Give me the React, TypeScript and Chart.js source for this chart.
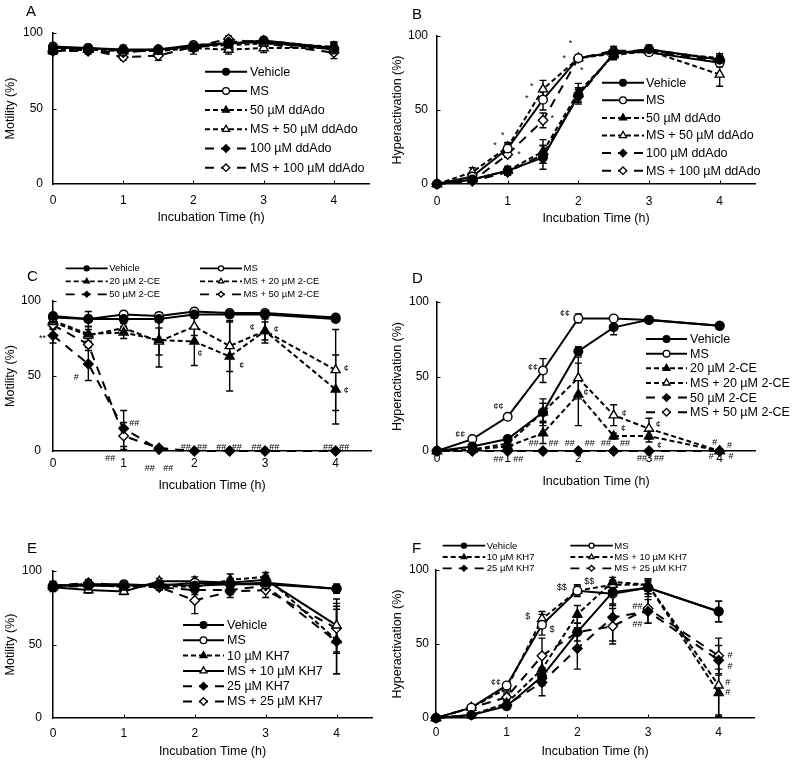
import React, { useEffect, useRef } from 'react';
import { Chart, registerables } from 'chart.js';
Chart.register(...registerables);

const FONT = '"Liberation Sans", Arial, Helvetica, sans-serif';

const times = [0, 0.5, 1, 1.5, 2, 2.5, 3, 4];
const xTicks = [0, 1, 2, 3, 4];
const yTicks = [0, 50, 100];

// ---------- Panel A: Motility, ddAdo ----------
const aVeh = [90, 90, 89, 89, 91, 93, 95, 90];
const aMS = [91, 90, 88, 89, 92, 93, 94, 89];
const a50 = [89, 89, 89, 88, 91, 92, 93, 91];
const aMS50 = [88, 89, 88, 88, 90, 89, 90, 90];
const a100 = [88, 88, 87, 89, 90, 94, 95, 90];
const aMS100 = [88, 89, 84, 85, 91, 96, 93, 87];
const aVehE = [2, 2, 2, 2, 2, 2, 2, 4];
const aMSE = [2, 1, 2, 2, 2, 2, 2, 3];
const a50E = [2, 2, 3, 2, 3, 3, 2, 3];
const aMS50E = [2, 2, 2, 2, 2, 3, 3, 3];
const a100E = [2, 2, 2, 2, 4, 2, 2, 3];
const aMS100E = [2, 2, 2, 3, 2, 2, 2, 4];

// ---------- Panel B: Hyperactivation, ddAdo ----------
const bVeh = [0, 3, 9, 18, 60, 88, 91, 84];
const bMS = [0, 5, 24, 57, 85, 89, 89, 82];
const b50 = [0, 3, 9, 22, 62, 87, 90, 85];
const bMS50 = [0, 8, 25, 64, 85, 88, 90, 74];
const b100 = [0, 2, 8, 20, 59, 88, 91, 84];
const bMS100 = [0, 2, 20, 43, 85, 90, 90, 83];
const bVehE = [0, 2, 3, 8, 5, 2, 2, 2];
const bMSE = [0, 2, 3, 7, 2, 3, 2, 3];
const b50E = [0, 2, 2, 8, 6, 3, 2, 3];
const bMS50E = [0, 3, 3, 6, 2, 3, 3, 8];
const b100E = [0, 1, 2, 6, 5, 3, 3, 3];
const bMS100E = [0, 1, 2, 5, 2, 3, 2, 3];
const bNotes = [
  { x: 0.82, y: 26, t: '*' }, { x: 0.93, y: 33, t: '*' }, { x: 1.16, y: 20, t: '*' },
  { x: 1.27, y: 58, t: '*' }, { x: 1.34, y: 66, t: '*' }, { x: 1.63, y: 44, t: '*' },
  { x: 1.8, y: 85, t: '*' }, { x: 1.89, y: 95, t: '*' }, { x: 2.05, y: 77, t: '*' },
];

// ---------- Panel C: Motility, 2-CE ----------
const cVeh = [90, 88, 88, 88, 91, 91, 91, 88];
const cMS = [89, 88, 91, 90, 93, 92, 92, 89];
const c20 = [87, 78, 79, 74, 73, 63, 80, 41];
const cMS20 = [86, 77, 82, 73, 83, 70, 80, 54];
const c50 = [77, 58, 15, 1, 0, 0, 0, 0];
const cMS50 = [84, 71, 10, 2, 0, 0, 0, 0];
const cVehE = [2, 5, 3, 2, 2, 2, 2, 2];
const cMSE = [2, 2, 2, 2, 2, 2, 2, 2];
const c20E = [3, 5, 4, 18, 16, 23, 6, 23];
const cMS20E = [3, 4, 4, 9, 6, 17, 8, 27];
const c50E = [5, 11, 12, 1, 0, 0, 0, 0];
const cMS50E = [3, 4, 9, 1, 0, 0, 0, 0];
const cNotes = [
  { x: -0.15, y: 75, t: '**' }, { x: 0.33, y: 49, t: '#' }, { x: 1.15, y: 18, t: '##' },
  { x: 0.81, y: -5, t: '##' }, { x: 1.37, y: -11.5, t: '##' }, { x: 1.63, y: -11.5, t: '##' },
  { x: 1.88, y: 2.5, t: '##' }, { x: 2.11, y: 2.5, t: '##' }, { x: 2.38, y: 2.5, t: '##' },
  { x: 2.6, y: 2.5, t: '##' }, { x: 2.88, y: 2.5, t: '##' }, { x: 3.13, y: 2.5, t: '##' },
  { x: 3.89, y: 2.5, t: '##' }, { x: 4.12, y: 2.5, t: '##' },
  { x: 2.08, y: 65, t: '¢' }, { x: 2.67, y: 57, t: '¢' }, { x: 2.82, y: 82, t: '¢' },
  { x: 3.16, y: 81, t: '¢' }, { x: 4.15, y: 55, t: '¢' }, { x: 4.15, y: 40, t: '¢' },
];

// ---------- Panel D: Hyperactivation, 2-CE ----------
const dVeh = [0, 3, 8, 26, 67, 83, 88, 84];
const dMS = [0, 8, 23, 54, 89, 89, 88, 84];
const d20 = [0, 1, 3, 12, 38, 10, 10, 0];
const dMS20 = [0, 1, 5, 26, 49, 24, 15, 0];
const d50 = [0, 0, 0, 0, 0, 0, 0, 0];
const dMS50 = [0, 0, 0, 0, 0, 0, 0, 0];
const dVehE = [0, 1, 2, 9, 3, 5, 1, 1];
const dMSE = [0, 1, 1, 8, 3, 1, 1, 1];
const d20E = [0, 1, 1, 7, 21, 2, 4, 0];
const dMS20E = [0, 1, 1, 6, 14, 7, 7, 0];
const d50E = [0, 0, 0, 0, 0, 0, 0, 0];
const dMS50E = [0, 0, 0, 0, 0, 0, 0, 0];
const dNotes = [
  { x: 1.81, y: 92, t: '¢¢' }, { x: 1.36, y: 56, t: '¢¢' }, { x: 0.87, y: 30, t: '¢¢' },
  { x: 0.33, y: 11, t: '¢¢' },
  { x: 1.37, y: 5, t: '##' }, { x: 1.65, y: 5, t: '##' }, { x: 1.88, y: 5, t: '##' },
  { x: 2.16, y: 5, t: '##' }, { x: 2.39, y: 5, t: '##' }, { x: 2.66, y: 5, t: '##' },
  { x: 0.87, y: -5.5, t: '##' }, { x: 1.15, y: -5.5, t: '##' }, { x: 2.9, y: -5, t: '##' },
  { x: 3.14, y: -5, t: '##' },
  { x: 2.11, y: 39, t: '¢' }, { x: 2.65, y: 25, t: '¢' }, { x: 2.64, y: 15, t: '¢' },
  { x: 3.13, y: 17.5, t: '¢' }, { x: 3.15, y: 4, t: '¢' },
  { x: 3.93, y: 6, t: '#' }, { x: 4.14, y: 3.5, t: '#' }, { x: 3.88, y: -4, t: '#' },
  { x: 4.16, y: -4, t: '#' },
];

// ---------- Panel E: Motility, KH7 ----------
const eVeh = [90, 90, 90, 91, 90, 91, 92, 88];
const eMS = [90, 91, 91, 90, 92, 91, 91, 88];
const e10 = [90, 91, 89, 90, 89, 94, 96, 53];
const eMS10 = [89, 87, 86, 93, 93, 92, 94, 63];
const e25 = [89, 90, 90, 89, 87, 87, 90, 52];
const eMS25 = [90, 92, 90, 89, 80, 86, 87, 61];
const eVehE = [3, 2, 2, 2, 3, 3, 2, 3];
const eMSE = [2, 2, 2, 2, 2, 2, 2, 3];
const e10E = [2, 2, 2, 2, 3, 4, 3, 23];
const eMS10E = [2, 2, 2, 2, 3, 3, 3, 18];
const e25E = [3, 2, 2, 2, 3, 3, 3, 22];
const eMS25E = [2, 2, 2, 2, 9, 4, 5, 17];

// ---------- Panel F: Hyperactivation, KH7 ----------
const fVeh = [0, 2, 8, 28, 58, 85, 88, 72];
const fMS = [0, 7, 22, 63, 86, 84, 88, 72];
const f10 = [0, 2, 10, 33, 70, 92, 90, 17];
const fMS10 = [0, 7, 20, 67, 86, 90, 90, 22];
const f25 = [0, 2, 9, 24, 47, 68, 72, 39];
const fMS25 = [0, 7, 14, 42, 58, 62, 74, 42];
const fVehE = [0, 1, 2, 6, 10, 8, 4, 7];
const fMSE = [0, 1, 2, 7, 4, 8, 6, 7];
const f10E = [0, 1, 2, 8, 6, 3, 3, 16];
const fMS10E = [0, 2, 3, 5, 3, 3, 4, 20];
const f25E = [0, 1, 2, 9, 14, 16, 8, 10];
const fMS25E = [0, 1, 2, 12, 6, 12, 10, 12];
const fNotes = [
  { x: 0.85, y: 24, t: '¢¢' }, { x: 1.3, y: 68.5, t: '$' }, { x: 1.64, y: 60, t: '$' },
  { x: 1.78, y: 88, t: '$$' }, { x: 2.17, y: 92.5, t: '$$' },
  { x: 2.85, y: 75.5, t: '##' }, { x: 2.85, y: 63.5, t: '##' },
  { x: 4.16, y: 42.5, t: '#' }, { x: 4.16, y: 35, t: '#' }, { x: 4.13, y: 24, t: '#' },
  { x: 4.13, y: 17, t: '#' },
];

// ---------- styles ----------
const SHORT = [5, 3];
const LONG = [9, 7];

function kindStyle(kind: string, solid?: boolean) {
  const shape = kind === 'veh' || kind === 'ms' ? 'circle' : kind === 'lo' || kind === 'loMs' ? 'triangle' : 'rectRot';
  const filled = kind === 'veh' || kind === 'lo' || kind === 'hi';
  const dash = solid || kind === 'veh' || kind === 'ms' ? [] : kind === 'lo' || kind === 'loMs' ? SHORT : LONG;
  const radius = shape === 'circle' ? 4.3 : shape === 'triangle' ? 5.2 : 4.8;
  return { shape, filled, dash, radius };
}

function mkSeries(labels: string[], vals: number[][], errs: number[][], solidIdx: number[] = []) {
  const kinds = ['veh', 'ms', 'lo', 'loMs', 'hi', 'hiMs'];
  return labels.map((l, i) => ({ label: l, kind: kinds[i], values: vals[i], err: errs[i], solid: solidIdx.includes(i) }));
}

const ddLabels = ['Vehicle', 'MS', '50 µM ddAdo', 'MS + 50 µM ddAdo', '100 µM ddAdo', 'MS + 100 µM ddAdo'];
const ceLabels = ['Vehicle', 'MS', '20 µM 2-CE', 'MS + 20 µM 2-CE', '50 µM 2-CE', 'MS + 50 µM 2-CE'];
const khLabels = ['Vehicle', 'MS', '10 µM KH7', 'MS + 10 µM KH7', '25 µM KH7', 'MS + 25 µM KH7'];

const panels = [
  {
    id: 'A', left: 0, top: 0, w: 397, h: 250, padTop: 33, padRight: 28, yW: 53, xH: 66,
    yTitle: 'Motility (%)', yTitlePad: 3, xTitlePad: 25, xTickPad: 9, yTickPad: 10,
    series: mkSeries(ddLabels, [aVeh, aMS, a50, aMS50, a100, aMS100], [aVehE, aMSE, a50E, aMS50E, a100E, aMS100E]),
    notes: [],
    legend: { cols: 1, x: [205], len: 42, off: 45, y0: 71.7, dy: 19.2, size: 12.5, ms: 1 },
  },
  {
    id: 'B', left: 385, top: 0, w: 410, h: 250, padTop: 36, padRight: 40, yW: 52, xH: 66,
    yTitle: 'Hyperactivation (%)', yTitlePad: 5, xTitlePad: 24, xTickPad: 10, yTickPad: 9,
    series: mkSeries(ddLabels, [bVeh, bMS, b50, bMS50, b100, bMS100], [bVehE, bMSE, b50E, bMS50E, b100E, bMS100E]),
    notes: bNotes,
    legend: { cols: 1, x: [217], len: 42, off: 44, y0: 82.7, dy: 17.6, size: 12.5, ms: 1 },
  },
  {
    id: 'C', left: 0, top: 250, w: 397, h: 250, padTop: 51, padRight: 26, yW: 53, xH: 49,
    yTitle: 'Motility (%)', yTitlePad: 3, xTitlePad: 7, xTickPad: 5, yTickPad: 12,
    series: mkSeries(ceLabels, [cVeh, cMS, c20, cMS20, c50, cMS50], [cVehE, cMSE, c20E, cMS20E, c50E, cMS50E]),
    notes: cNotes,
    legend: { cols: 2, x: [65.7, 200], len: 42, off: 43.5, y0: 18.3, dy: 13, size: 9.5, ms: 0.75 },
  },
  {
    id: 'D', left: 385, top: 250, w: 410, h: 250, padTop: 52, padRight: 40, yW: 52, xH: 49,
    yTitle: 'Hyperactivation (%)', yTitlePad: 5, xTitlePad: 11, xTickPad: 0, yTickPad: 8,
    series: mkSeries(ceLabels, [dVeh, dMS, d20, dMS20, d50, dMS50], [dVehE, dMSE, d20E, dMS20E, d50E, dMS50E]),
    notes: dNotes,
    legend: { cols: 1, x: [261], len: 41, off: 44, y0: 89, dy: 14.65, size: 12.5, ms: 1 },
  },
  {
    id: 'E', left: 0, top: 500, w: 397, h: 263, padTop: 71, padRight: 25, yW: 53, xH: 45,
    yTitle: 'Motility (%)', yTitlePad: 3, xTitlePad: 4, xTickPad: 8, yTickPad: 11,
    series: mkSeries(khLabels, [eVeh, eMS, e10, eMS10, e25, eMS25], [eVehE, eMSE, e10E, eMS10E, e25E, eMS25E], [3]),
    notes: [],
    legend: { cols: 1, x: [183], len: 41, off: 44, y0: 125, dy: 15.3, size: 12.5, ms: 1 },
  },
  {
    id: 'F', left: 385, top: 500, w: 410, h: 263, padTop: 70, padRight: 41, yW: 51, xH: 45,
    yTitle: 'Hyperactivation (%)', yTitlePad: 5, xTitlePad: 4, xTickPad: 7, yTickPad: 7,
    series: mkSeries(khLabels, [fVeh, fMS, f10, fMS10, f25, fMS25], [fVehE, fMSE, f10E, fMS10E, f25E, fMS25E]),
    notes: fNotes,
    legend: { cols: 2, x: [57.7, 185.3], len: 42.5, off: 44, y0: 45.7, dy: 11.3, size: 9.5, ms: 0.75 },
  },
];

function drawShape(ctx: CanvasRenderingContext2D, shape: string, x: number, y: number, r: number) {
  ctx.beginPath();
  if (shape === 'circle') {
    ctx.arc(x, y, r, 0, Math.PI * 2);
  } else if (shape === 'triangle') {
    for (let k = 0; k < 3; k++) {
      const a = (k * 2 * Math.PI) / 3;
      const px = x + Math.sin(a) * r;
      const py = y - Math.cos(a) * r;
      if (k === 0) ctx.moveTo(px, py); else ctx.lineTo(px, py);
    }
    ctx.closePath();
  } else {
    ctx.moveTo(x - r, y); ctx.lineTo(x, y - r); ctx.lineTo(x + r, y); ctx.lineTo(x, y + r);
    ctx.closePath();
  }
  ctx.fill();
  ctx.stroke();
}

const panelPlugin = {
  id: 'panelExtras',
  beforeDatasetsDraw(chart: any) {
    const spec = chart.options.plugins.panelExtras.spec;
    const ctx: CanvasRenderingContext2D = chart.ctx;
    const xs = chart.scales.x;
    const ys = chart.scales.y;
    const area = chart.chartArea;
    ctx.save();
    ctx.strokeStyle = '#000';
    ctx.lineWidth = 1;
    // inward tick marks
    xTicks.forEach((v) => {
      if (v === 0) return;
      const px = Math.round(xs.getPixelForValue(v)) + 0.5;
      ctx.beginPath(); ctx.moveTo(px, area.bottom); ctx.lineTo(px, area.bottom - 3.5); ctx.stroke();
    });
    yTicks.forEach((v) => {
      if (v === 0) return;
      const py = Math.round(ys.getPixelForValue(v)) + 0.5;
      ctx.beginPath(); ctx.moveTo(area.left, py); ctx.lineTo(area.left + 3.5, py); ctx.stroke();
    });
    // error bars
    ctx.lineWidth = 1.4;
    spec.series.forEach((s: any, i: number) => {
      const meta = chart.getDatasetMeta(i);
      s.values.forEach((v: number, j: number) => {
        const e = s.err[j];
        if (!e) return;
        const px = meta.data[j].x;
        const yt = ys.getPixelForValue(v + e);
        const yb = ys.getPixelForValue(Math.max(v - e, 0));
        ctx.beginPath();
        ctx.moveTo(px, yt); ctx.lineTo(px, yb);
        ctx.moveTo(px - 3.5, yt); ctx.lineTo(px + 3.5, yt);
        if (v - e > 0) { ctx.moveTo(px - 3.5, yb); ctx.lineTo(px + 3.5, yb); }
        ctx.stroke();
      });
    });
    ctx.restore();
  },
  afterDatasetsDraw(chart: any) {
    const spec = chart.options.plugins.panelExtras.spec;
    const ctx: CanvasRenderingContext2D = chart.ctx;
    const xs = chart.scales.x;
    const ys = chart.scales.y;
    ctx.save();
    ctx.fillStyle = '#000';
    ctx.font = `9px ${FONT}`;
    ctx.textAlign = 'center';
    ctx.textBaseline = 'middle';
    spec.notes.forEach((n: any) => {
      ctx.fillText(n.t, xs.getPixelForValue(n.x), ys.getPixelForValue(n.y));
    });
    // legend
    const lg = spec.legend;
    ctx.font = `${lg.size}px ${FONT}`;
    ctx.textAlign = 'left';
    spec.series.forEach((s: any, i: number) => {
      const col = i % lg.cols;
      const row = Math.floor(i / lg.cols);
      const x0 = lg.x[col];
      const y = lg.y0 + row * lg.dy;
      const st = kindStyle(s.kind, s.solid);
      ctx.strokeStyle = '#000';
      ctx.lineWidth = 2 * (lg.ms < 1 ? 0.9 : 1);
      ctx.setLineDash(st.dash);
      ctx.beginPath(); ctx.moveTo(x0, y); ctx.lineTo(x0 + lg.len, y); ctx.stroke();
      ctx.setLineDash([]);
      ctx.lineWidth = 1.3;
      ctx.fillStyle = st.filled ? '#000' : '#fff';
      drawShape(ctx, st.shape, x0 + lg.len / 2, y, st.radius * 0.78 * lg.ms);
      ctx.fillStyle = '#000';
      ctx.fillText(s.label, x0 + lg.off, y + 0.5);
    });
    ctx.restore();
  },
};

function buildConfig(spec: any) {
  const datasets = spec.series.map((s: any) => {
    const st = kindStyle(s.kind, s.solid);
    return {
      label: s.label,
      data: times.map((t, i) => ({ x: t, y: s.values[i] })),
      borderColor: '#000',
      borderWidth: 2,
      borderDash: st.dash,
      tension: 0,
      fill: false,
      clip: false,
      pointStyle: st.shape,
      pointRadius: st.radius,
      pointBorderWidth: 1.4,
      pointBorderColor: '#000',
      pointBackgroundColor: st.filled ? '#000' : '#fff',
    };
  });
  const tickFont = { family: FONT, size: 12 };
  const titleFont = { family: FONT, size: 12.5 };
  return {
    type: 'line',
    data: { datasets },
    options: {
      animation: false,
      responsive: false,
      maintainAspectRatio: false,
      events: [],
      layout: { padding: { left: 0, top: spec.padTop, right: spec.padRight, bottom: 0 } },
      scales: {
        x: {
          type: 'linear', min: 0, max: 4.5,
          afterBuildTicks: (s: any) => { s.ticks = xTicks.map((v) => ({ value: v })); },
          afterFit: (s: any) => { s.height = spec.xH; },
          grid: { display: false, drawTicks: false },
          border: { display: true, color: '#000', width: 1.5 },
          ticks: { color: '#000', font: tickFont, padding: spec.xTickPad, maxRotation: 0, autoSkip: false },
          title: { display: true, text: 'Incubation Time (h)', color: '#000', font: titleFont, padding: { top: 0, bottom: spec.xTitlePad } },
        },
        y: {
          type: 'linear', min: 0, max: 100,
          afterBuildTicks: (s: any) => { s.ticks = yTicks.map((v) => ({ value: v })); },
          afterFit: (s: any) => { s.width = spec.yW; },
          grid: { display: false, drawTicks: false },
          border: { display: true, color: '#000', width: 1.5 },
          ticks: { color: '#000', font: tickFont, padding: spec.yTickPad },
          title: { display: true, text: spec.yTitle, color: '#000', font: titleFont, padding: { top: spec.yTitlePad, bottom: 0 } },
        },
      },
      plugins: {
        legend: { display: false },
        tooltip: { enabled: false },
        panelExtras: { spec },
      },
    },
    plugins: [panelPlugin],
  };
}

function Panel({ spec }: { spec: any }) {
  const ref = useRef<HTMLCanvasElement>(null);
  useEffect(() => {
    const chart = new Chart(ref.current as HTMLCanvasElement, buildConfig(spec) as any);
    return () => chart.destroy();
  }, [spec]);
  return (
    <div style={{ position: 'absolute', left: spec.left, top: spec.top, width: spec.w, height: spec.h }}>
      <canvas ref={ref} width={spec.w} height={spec.h} style={{ width: spec.w, height: spec.h }} />
    </div>
  );
}

const labelPos: Record<string, [number, number]> = {
  A: [26, 2.6], B: [412, 5.6], C: [27, 268], D: [412, 269.6], E: [27, 539.6], F: [412, 539.6],
};

export default function App() {
  return (
    <div style={{ position: 'absolute', left: 0, top: 0, width: 795, height: 763, background: '#fff', overflow: 'hidden' }}>
      {panels.map((p) => <Panel key={p.id} spec={p} />)}
      {panels.map((p) => (
        <div key={'lbl' + p.id} style={{ position: 'absolute', left: labelPos[p.id][0], top: labelPos[p.id][1], font: `15px ${FONT}`, lineHeight: '15px', color: '#000' }}>
          {p.id}
        </div>
      ))}
    </div>
  );
}
